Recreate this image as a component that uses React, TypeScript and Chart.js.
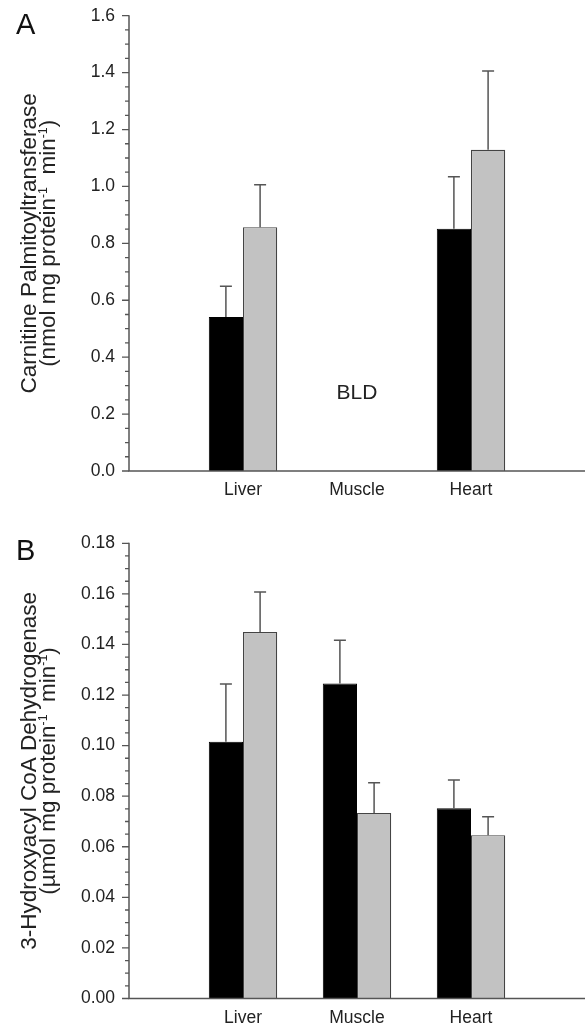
import { useEffect, useRef } from 'react';
import { Chart, registerables } from 'chart.js';

Chart.register(...registerables);

// ---------- data ----------
const categories = ['', 'Liver', 'Muscle', 'Heart', ''];

// Panel A: Carnitine Palmitoyltransferase
const cptBlack = [null, 0.541, null, 0.851, null];
const cptBlackErr = [null, 0.108, null, 0.183, null];
const cptGray = [null, 0.857, null, 1.129, null];
const cptGrayErr = [null, 0.149, null, 0.277, null];
const cptTicks = [0, 0.2, 0.4, 0.6, 0.8, 1.0, 1.2, 1.4, 1.6];
const cptMinorStep = 0.05;
const cptNote = { text: 'BLD', category: 2, value: 0.272 };

// Panel B: 3-Hydroxyacyl CoA Dehydrogenase
const hadBlack = [null, 0.1015, 0.1246, 0.0752, null];
const hadBlackErr = [null, 0.0229, 0.0171, 0.0112, null];
const hadGray = [null, 0.1449, 0.0734, 0.0646, null];
const hadGrayErr = [null, 0.0158, 0.0119, 0.0073, null];
const hadTicks = [0, 0.02, 0.04, 0.06, 0.08, 0.1, 0.12, 0.14, 0.16, 0.18];
const hadMinorStep = 0.005;

type Seg = { t: string; sup?: boolean };
const titleA: Seg[][] = [
  [{ t: 'Carnitine Palmitoyltransferase' }],
  [{ t: '(nmol mg protein' }, { t: '-1', sup: true }, { t: '  min' }, { t: '-1', sup: true }, { t: ')' }],
];
const titleB: Seg[][] = [
  [{ t: '3-Hydroxyacyl CoA Dehydrogenase' }],
  [{ t: '(\u00B5mol mg protein' }, { t: '-1', sup: true }, { t: '  min' }, { t: '-1', sup: true }, { t: ')' }],
];

const FONT = "'Liberation Sans', Arial, Helvetica, sans-serif";
const AXIS_COLOR = '#555';
const TEXT_COLOR = '#222';

type PanelCfg = {
  letter: string;
  letterBase: number;
  black: (number | null)[];
  blackErr: (number | null)[];
  gray: (number | null)[];
  grayErr: (number | null)[];
  ticks: number[];
  minorStep: number;
  decimals: number;
  title: Seg[][];
  note?: { text: string; category: number; value: number };
  padTop: number;
  xHeight: number;
};

function drawRich(ctx: CanvasRenderingContext2D, segs: Seg[], baseX: number, cy: number, size: number) {
  ctx.save();
  ctx.translate(baseX, cy);
  ctx.rotate(-Math.PI / 2);
  ctx.textAlign = 'left';
  ctx.textBaseline = 'alphabetic';
  const supSize = size * 0.55;
  let total = 0;
  const widths: number[] = [];
  for (const s of segs) {
    ctx.font = `${s.sup ? supSize : size}px ${FONT}`;
    const w = ctx.measureText(s.t).width;
    widths.push(w);
    total += w;
  }
  let x = -total / 2;
  segs.forEach((s, i) => {
    ctx.font = `${s.sup ? supSize : size}px ${FONT}`;
    ctx.fillText(s.t, x, s.sup ? -size * 0.36 : 0);
    x += widths[i];
  });
  ctx.restore();
}

function makeDecor(cfg: PanelCfg) {
  return {
    id: 'decor',
    afterDraw(chart: any) {
      const ctx: CanvasRenderingContext2D = chart.ctx;
      const area = chart.chartArea;
      const ys = chart.scales.y;
      const xs = chart.scales.x;
      ctx.save();

      // error bars
      const errs = [cfg.blackErr, cfg.grayErr];
      const vals = [cfg.black, cfg.gray];
      ctx.strokeStyle = AXIS_COLOR;
      ctx.lineWidth = 1.5;
      for (let d = 0; d < 2; d++) {
        const meta = chart.getDatasetMeta(d);
        meta.data.forEach((el: any, i: number) => {
          const v = vals[d][i];
          const e = errs[d][i];
          if (v == null || e == null) return;
          const x = el.x;
          const y0 = el.y;
          const y1 = ys.getPixelForValue(v + e);
          ctx.beginPath();
          ctx.moveTo(x, y0);
          ctx.lineTo(x, y1);
          ctx.moveTo(x - 6, y1);
          ctx.lineTo(x + 6, y1);
          ctx.stroke();
        });
      }

      // axes
      ctx.strokeStyle = AXIS_COLOR;
      ctx.lineWidth = 1.5;
      ctx.beginPath();
      ctx.moveTo(area.left, area.top - 0.5);
      ctx.lineTo(area.left, area.bottom);
      ctx.lineTo(area.right, area.bottom);
      ctx.stroke();

      // tick marks
      const max = cfg.ticks[cfg.ticks.length - 1];
      const n = Math.round(max / cfg.minorStep);
      const majorEvery = Math.round((cfg.ticks[1] - cfg.ticks[0]) / cfg.minorStep);
      ctx.lineWidth = 1.3;
      ctx.beginPath();
      for (let k = 0; k <= n; k++) {
        const y = ys.getPixelForValue(k * cfg.minorStep);
        const len = k % majorEvery === 0 ? 7 : 4;
        ctx.moveTo(area.left - len, y);
        ctx.lineTo(area.left, y);
      }
      ctx.stroke();

      // note
      ctx.fillStyle = TEXT_COLOR;
      if (cfg.note) {
        ctx.font = `21px ${FONT}`;
        ctx.textAlign = 'center';
        ctx.textBaseline = 'middle';
        ctx.fillText(cfg.note.text, xs.getPixelForValue(cfg.note.category), ys.getPixelForValue(cfg.note.value));
      }

      // panel letter
      ctx.font = `29px ${FONT}`;
      ctx.textAlign = 'left';
      ctx.textBaseline = 'alphabetic';
      ctx.fillStyle = '#111';
      ctx.fillText(cfg.letter, 16, cfg.letterBase);

      // y title
      ctx.fillStyle = TEXT_COLOR;
      const cy = (area.top + area.bottom) / 2;
      drawRich(ctx, cfg.title[0], 36, cy, 22.5);
      drawRich(ctx, cfg.title[1], 55, cy, 22.5);

      ctx.restore();
    },
  };
}

function zeroPad(s: any) {
  s.paddingTop = 0;
  s.paddingBottom = 0;
  s.paddingLeft = 0;
  s.paddingRight = 0;
}

function Panel({ cfg, height }: { cfg: PanelCfg; height: number }) {
  const ref = useRef<HTMLCanvasElement | null>(null);
  useEffect(() => {
    if (!ref.current) return;
    const chart = new Chart(ref.current, {
      type: 'bar',
      data: {
        labels: categories,
        datasets: [
          {
            data: cfg.black as any,
            backgroundColor: '#000000',
            borderColor: '#000000',
            borderWidth: 1,
            categoryPercentage: 0.6,
            barPercentage: 1.0,
          },
          {
            data: cfg.gray as any,
            backgroundColor: '#c2c2c2',
            borderColor: '#444444',
            borderWidth: 1.2,
            categoryPercentage: 0.6,
            barPercentage: 1.0,
          },
        ],
      },
      options: {
        animation: false,
        responsive: true,
        maintainAspectRatio: false,
        layout: { padding: { top: cfg.padTop, right: 3, left: 0, bottom: 0 } },
        plugins: { legend: { display: false }, tooltip: { enabled: false } },
        scales: {
          x: {
            type: 'category',
            offset: false,
            grid: { display: false, drawTicks: false },
            border: { display: false },
            ticks: {
              padding: 9,
              color: TEXT_COLOR,
              autoSkip: false,
              maxRotation: 0,
              font: { family: FONT, size: 17.5 },
            },
            afterFit: (s: any) => {
              s.height = cfg.xHeight;
              zeroPad(s);
            },
          },
          y: {
            type: 'linear',
            min: 0,
            max: cfg.ticks[cfg.ticks.length - 1],
            grid: { display: false, drawTicks: false },
            border: { display: false },
            ticks: {
              padding: 14,
              color: TEXT_COLOR,
              autoSkip: false,
              font: { family: FONT, size: 17.5 },
              callback: (v: any) => Number(v).toFixed(cfg.decimals),
            },
            afterBuildTicks: (s: any) => {
              s.ticks = cfg.ticks.map((v) => ({ value: v }));
            },
            afterFit: (s: any) => {
              s.width = 129;
              zeroPad(s);
            },
          },
        },
      } as any,
      plugins: [makeDecor(cfg)],
    });
    return () => chart.destroy();
  }, [cfg]);
  return (
    <div style={{ position: 'relative', width: 588, height }}>
      <canvas ref={ref} />
    </div>
  );
}

const cfgA: PanelCfg = {
  letter: 'A',
  letterBase: 34,
  black: cptBlack,
  blackErr: cptBlackErr,
  gray: cptGray,
  grayErr: cptGrayErr,
  ticks: cptTicks,
  minorStep: cptMinorStep,
  decimals: 1,
  title: titleA,
  note: cptNote,
  padTop: 15.7,
  xHeight: 39,
};

const cfgB: PanelCfg = {
  letter: 'B',
  letterBase: 50,
  black: hadBlack,
  blackErr: hadBlackErr,
  gray: hadGray,
  grayErr: hadGrayErr,
  ticks: hadTicks,
  minorStep: hadMinorStep,
  decimals: 2,
  title: titleB,
  padTop: 33.3,
  xHeight: 30.5,
};

export default function App() {
  return (
    <div style={{ position: 'absolute', top: 0, left: 0, width: 588, height: 1029, background: '#fff' }}>
      <Panel cfg={cfgA} height={510} />
      <Panel cfg={cfgB} height={519} />
    </div>
  );
}
